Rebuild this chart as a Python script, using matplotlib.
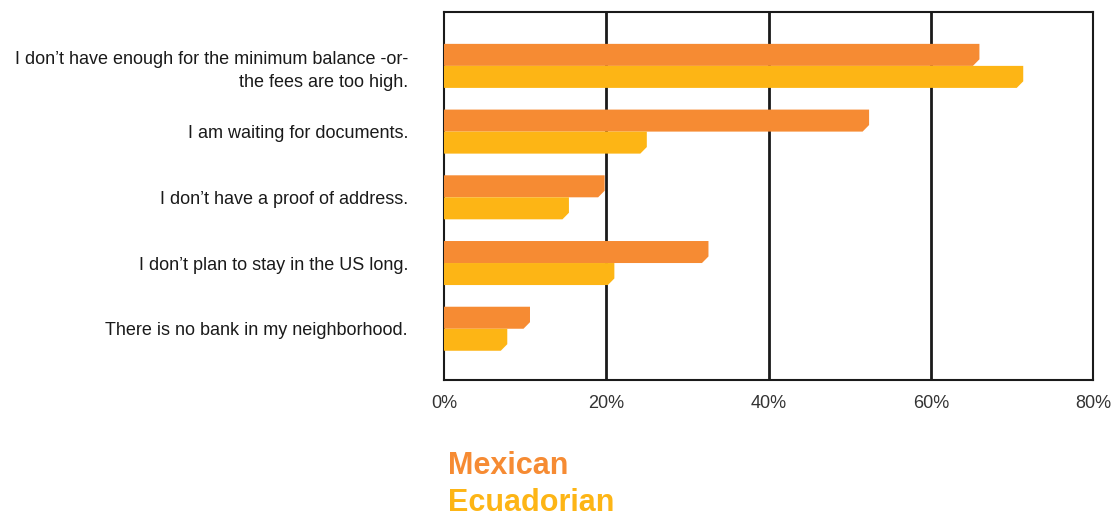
import numpy as np
import matplotlib.pyplot as plt
from matplotlib.patches import Polygon

plt.rcParams['font.family'] = ['Liberation Sans', 'DejaVu Sans']

reasons = [
    "I don\u2019t have enough for the minimum balance -or-\nthe fees are too high.",
    "I am waiting for documents.",
    "I don\u2019t have a proof of address.",
    "I don\u2019t plan to stay in the US long.",
    "There is no bank in my neighborhood.",
]
mexican = [66.0, 52.4, 19.8, 32.6, 10.6]
ecuadorian = [71.4, 25.0, 15.4, 21.0, 7.8]
ticks = [0, 20, 40, 60, 80]

MEX_COLOR = '#F68B33'
ECU_COLOR = '#FDB515'

fig = plt.figure(figsize=(11.13, 5.19), dpi=100)
ax = fig.add_axes([444 / 1113, 1 - 380 / 519, 649 / 1113, 368 / 519])

y = np.arange(len(reasons))
h = 0.335


def chamfer_bars(bars, color):
    # replace the plain rectangles with ones that have a clipped lower-right corner
    for r in bars:
        x0, y0 = r.get_x(), r.get_y()
        w, hh = r.get_width(), r.get_height()
        cx, cy = 0.8, 0.1
        pts = [(x0, y0), (x0 + w, y0), (x0 + w, y0 + hh - cy),
               (x0 + w - cx, y0 + hh), (x0, y0 + hh)]
        r.set_visible(False)
        ax.add_patch(Polygon(pts, closed=True, facecolor=color,
                             edgecolor='none', zorder=3))


b1 = ax.barh(y - h / 2, mexican, height=h, color=MEX_COLOR)
b2 = ax.barh(y + h / 2, ecuadorian, height=h, color=ECU_COLOR)
chamfer_bars(b1, MEX_COLOR)
chamfer_bars(b2, ECU_COLOR)

ax.set_xlim(0, 80)
ax.set_ylim(4.78, -0.82)
ax.set_xticks(ticks)
ax.set_xticklabels([f"{t}%" for t in ticks], fontsize=13, color='#333333')
ax.set_yticks(y)
ax.set_yticklabels(reasons, fontsize=13, color='#1a1a1a', linespacing=1.45)
ax.tick_params(axis='both', length=0)
ax.tick_params(axis='y', pad=26)
ax.tick_params(axis='x', pad=11)

for t in ticks[1:-1]:
    ax.axvline(t, color='#1a1a1a', linewidth=2, zorder=1)
for s in ax.spines.values():
    s.set_linewidth(1.5)
    s.set_color('#1a1a1a')

fig.text(448 / 1113, 1 - 466 / 519, "Mexican", color=MEX_COLOR,
         fontsize=22, fontweight='bold', va='center', ha='left')
fig.text(448 / 1113, 1 - 503 / 519, "Ecuadorian", color=ECU_COLOR,
         fontsize=22, fontweight='bold', va='center', ha='left')

fig.savefig('out.png', dpi=100)
